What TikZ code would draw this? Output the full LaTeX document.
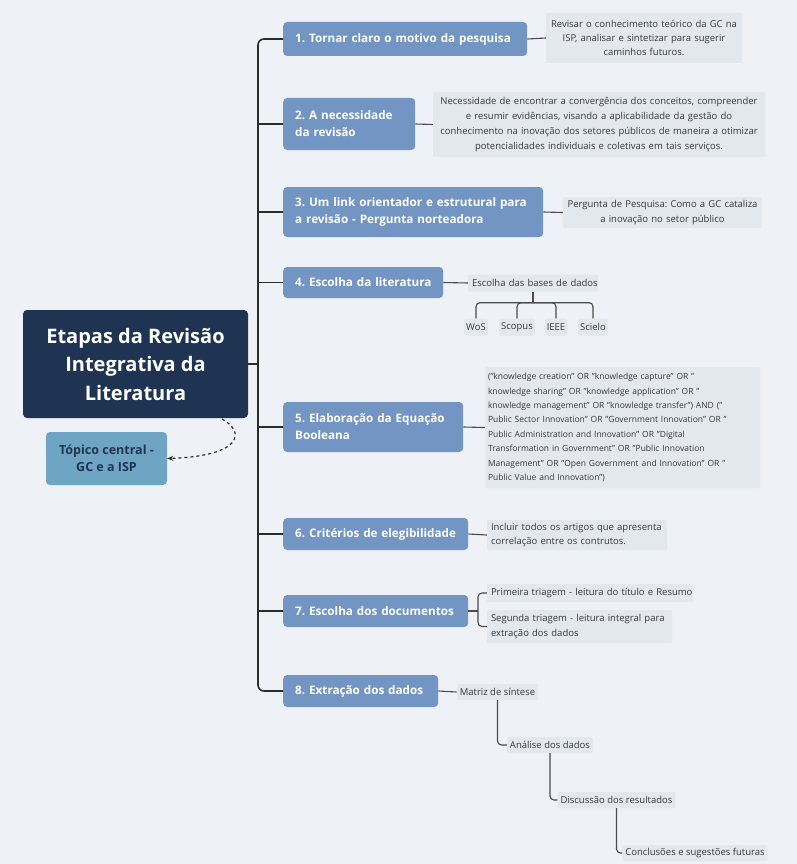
\documentclass[tikz,border=0pt]{standalone}
\usepackage{fontspec}
\setmainfont{Open Sans}
\usetikzlibrary{arrows.meta}
\frenchspacing
\definecolor{bg}{HTML}{EEF1F6}
\definecolor{lvlc}{HTML}{7295C3}
\definecolor{navy}{HTML}{1F3452}
\definecolor{topicc}{HTML}{6FA5C4}
\definecolor{notebg}{HTML}{E3E7EE}
\definecolor{notetxt}{HTML}{3A3A3A}
\definecolor{wire}{HTML}{2B2B2B}
\begin{document}
\begin{tikzpicture}[x=1pt,y=-1pt,
 lvlbox/.style={fill=lvlc, rounded corners=4pt, text=white, font=\fontsize{11.7}{17}\selectfont\bfseries, inner xsep=12pt, inner ysep=0pt, anchor=west, align=left},
 notebox/.style={fill=notebg, rounded corners=2pt, text=notetxt, font=\fontsize{9.5}{14.2}\selectfont, inner xsep=4pt, inner ysep=0pt},
 wireline/.style={draw=wire, line width=1.6pt, rounded corners=6pt},
 subwire/.style={draw=wire!85, line width=1.1pt, rounded corners=4pt}]
\useasboundingbox (0,0) rectangle (797,864);
\fill[bg] (0,0) rectangle (797,864);

% central
\node[fill=navy, rounded corners=4pt, text=white, font=\fontsize{20}{28.5}\selectfont\bfseries, align=center, minimum width=225pt, minimum height=108pt, inner sep=0pt] (central) at (135.5,364) {Etapas da Revisão\\Integrativa da\\Literatura};
\node[fill=topicc, rounded corners=4pt, text=navy, font=\fontsize{12.5}{17.5}\selectfont\bfseries, align=center, minimum width=121pt, minimum height=53pt, inner sep=0pt] (topic) at (106.5,458.5) {Tópico central -\\GC e a ISP};
\coordinate (ds) at (222,419);
\draw[wire, dashed, line width=1.2pt, -{Stealth[length=6pt,width=5pt]}] (ds) .. controls (246,432) and (242,456) .. (topic.east);

% level 1
\node[lvlbox, text width=220pt, minimum height=34pt] (n1) at (283,39) {\mbox{1. Tornar claro o motivo da pesquisa}};
\node[lvlbox, text width=108pt, minimum height=52pt] (n2) at (283,124) {\mbox{2. A necessidade}\\\mbox{da revisão}};
\node[lvlbox, text width=236pt, minimum height=50pt] (n3) at (283,212) {\mbox{3. Um link orientador e estrutural para}\\\mbox{a revisão - Pergunta norteadora}};
\node[lvlbox, text width=136pt, minimum height=31pt] (n4) at (283,282.5) {\mbox{4. Escolha da literatura}};
\node[lvlbox, text width=156pt, minimum height=50pt] (n5) at (283,427) {\mbox{5. Elaboração da Equação}\\\mbox{Booleana}};
\node[lvlbox, text width=161pt, minimum height=32pt] (n6) at (283,534) {\mbox{6. Critérios de elegibilidade}};
\node[lvlbox, text width=161pt, minimum height=32pt] (n7) at (283,611) {\mbox{7. Escolha dos documentos}};
\node[lvlbox, text width=131pt, minimum height=32pt] (n8) at (283,691) {\mbox{8. Extração dos dados}};

% spine
\coordinate (spbot) at (258,691);
\draw[wireline] (n1.west) -| (spbot) -- (n8.west);
\draw[wireline] (central.east) -- (central.east -| spbot);
\foreach \n in {n2,n3,n4,n5,n6,n7}{
  \draw[wireline] (\n.west) -- (\n.west -| spbot);
}

% notes
\node[notebox, align=center, text width=188pt, minimum height=50pt] (note1) at (644,38) {\mbox{Revisar o conhecimento teórico da GC na}\\\mbox{ISP, analisar e sintetizar para sugerir}\\\mbox{caminhos futuros.}};
\node[notebox, align=center, text width=324pt, minimum height=65pt, font=\fontsize{9.5}{14.8}\selectfont] (note2) at (599,124.5) {\mbox{Necessidade de encontrar a convergência dos conceitos, compreender}\\\mbox{e resumir evidências, visando a aplicabilidade da gestão do}\\\mbox{conhecimento na inovação dos setores públicos de maneira a otimizar}\\\mbox{potencialidades individuais e coletivas em tais serviços.}};
\node[notebox, align=center, text width=191pt, minimum height=31pt] (note3) at (662.5,212.5) {\mbox{Pergunta de Pesquisa: Como a GC cataliza}\\\mbox{a inovação no setor público}};
\node[notebox, align=center, text width=122pt, minimum height=17pt] (note4) at (533,283) {\mbox{Escolha das bases de dados}};
\node[notebox, minimum height=17pt, inner xsep=2pt] (wos) at (476,327) {WoS};
\node[notebox, minimum height=17pt, inner xsep=2pt] (scopus) at (517,327) {Scopus};
\node[notebox, minimum height=17pt, inner xsep=2pt] (ieee) at (556,327) {IEEE};
\node[notebox, minimum height=17pt, inner xsep=2pt] (scielo) at (593,327) {Scielo};
\node[notebox, align=left, text width=269pt, inner xsep=3pt, minimum height=121pt, font=\fontsize{8.5}{14.4}\selectfont] (note5) at (622.5,427.5) {\mbox{("knowledge creation" OR "knowledge capture" OR "}\\\mbox{knowledge sharing" OR "knowledge application" OR "}\\\mbox{knowledge management" OR "knowledge transfer") AND ("}\\\mbox{Public Sector Innovation" OR "Government Innovation" OR "}\\\mbox{Public Administration and Innovation" OR "Digital}\\\mbox{Transformation in Government" OR "Public Innovation}\\\mbox{Management" OR "Open Government and Innovation" OR "}\\\mbox{Public Value and Innovation")}};
\node[notebox, align=left, text width=172pt, minimum height=30pt] (note6) at (577,535) {\mbox{Incluir todos os artigos que apresenta}\\\mbox{correlação entre os contrutos.}};
\node[notebox, align=left, text width=198pt, minimum height=18pt] (note7a) at (590,593) {\mbox{Primeira triagem - leitura do título e Resumo}};
\node[notebox, align=left, text width=177pt, minimum height=33pt] (note7b) at (579.5,626.5) {\mbox{Segunda triagem - leitura integral para}\\\mbox{extração dos dados}};
\node[notebox, minimum height=16pt, inner xsep=3pt] (m8) at (497.5,692) {Matriz de síntese};
\node[notebox, minimum height=16pt, inner xsep=3pt] (an8) at (550,745) {Análise dos dados};
\node[notebox, minimum height=16pt, inner xsep=3pt] (di8) at (616.5,800) {Discussão dos resultados};
\node[notebox, minimum height=16pt, inner xsep=3pt] (co8) at (695,853) {Conclusões e sugestões futuras};

% note connectors
\draw[subwire] (n1.east) -- (note1.west);
\draw[subwire] (n2.east) -- (note2.west);
\draw[subwire] (n3.east) -- (note3.west);
\draw[subwire] (n4.east) -- (note4.west);
\draw[subwire] (n5.east) -- (note5.west);
\draw[subwire] (n6.east) -- (note6.west);
\draw[subwire] (note4.south) -- ++(0,11) coordinate (t4);
\foreach \c in {wos,scopus,ieee,scielo}{ \draw[subwire] (t4) -| (\c.north); }
\coordinate (b7) at (478,611);
\draw[subwire] (n7.east) -- (b7);
\draw[subwire] (b7) |- (note7a.west);
\draw[subwire] (b7) |- (note7b.west);
\draw[subwire] (n8.east) -- (m8.west);
\draw[subwire] (m8.south) |- (an8.west);
\draw[subwire] (an8.south) |- (di8.west);
\draw[subwire] (di8.south) |- (co8.west);
\end{tikzpicture}
\end{document}
